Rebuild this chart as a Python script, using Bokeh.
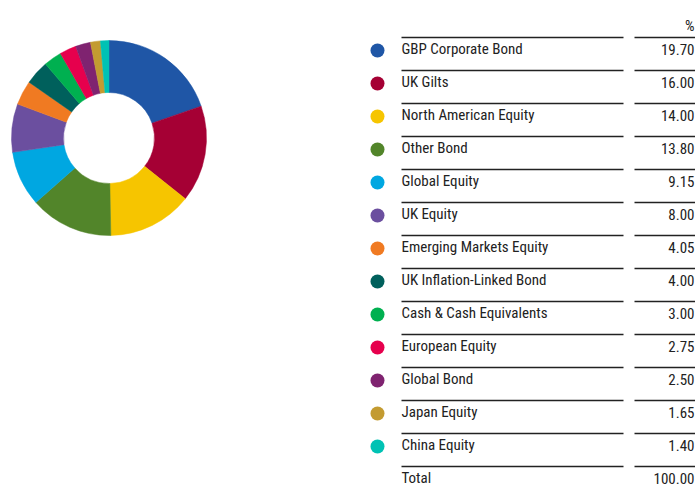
import math
from bokeh.plotting import figure
from bokeh.models import Range1d, ColumnDataSource
from bokeh.core.properties import value
from bokeh.embed import file_html
from bokeh.resources import INLINE

categories = ["GBP Corporate Bond", "UK Gilts", "North American Equity", "Other Bond",
              "Global Equity", "UK Equity", "Emerging Markets Equity", "UK Inflation-Linked Bond",
              "Cash & Cash Equivalents", "European Equity", "Global Bond", "Japan Equity",
              "China Equity"]
values = [19.70, 16.00, 14.00, 13.80, 9.15, 8.00, 4.05, 4.00, 3.00, 2.75, 2.50, 1.65, 1.40]
value_labels = ["19.70", "16.00", "14.00", "13.80", "9.15", "8.00", "4.05", "4.00", "3.00",
                "2.75", "2.50", "1.65", "1.40"]
total_label = "Total"
total_value = "100.00"
header = "%"
colors = ["#1f56a6", "#a50034", "#f6c500", "#52852a", "#00a7e1", "#6b4f9f", "#f07a22",
          "#00605c", "#00b050", "#e6004d", "#7f2370", "#c39b31", "#00c2b4"]

FONT = "Roboto Condensed"
W, H = 695, 486
p = figure(width=W, height=H, output_backend="svg", toolbar_location=None,
           x_range=Range1d(0, W), y_range=Range1d(0, H), min_border=0)
p.axis.visible = False
p.grid.visible = False
p.outline_line_color = None
p.background_fill_color = "white"
p.border_fill_color = "white"

def Y(py):
    return H - py

# donut, clockwise from 12 o'clock
total = sum(values)
starts, ends = [], []
cum = 0.0
for v in values:
    starts.append(math.pi / 2 - 2 * math.pi * (cum + v) / total)
    ends.append(math.pi / 2 - 2 * math.pi * cum / total)
    cum += v
src = ColumnDataSource(dict(start=starts, end=ends, color=colors))
p.annular_wedge(x=108.5, y=Y(137.5), inner_radius=45.5, outer_radius=97.5,
                inner_radius_units="screen", outer_radius_units="screen",
                start_angle="start", end_angle="end", color="color",
                line_color="color", line_width=0.5, source=src)

n = len(categories)
row_y = [Y(48.5 + 33 * i) for i in range(n + 1)]
line_y = [Y(37 + 33 * i) for i in range(n + 1)]

# legend circles
p.scatter(x=[377] * n, y=[Y(50 + 33 * i) for i in range(n)], size=14,
          color=colors, line_color=None)

# separator lines
p.segment(x0=[401] * (n + 1), y0=line_y, x1=[623] * (n + 1), y1=line_y,
          line_color="#222222", line_width=1.7)
p.segment(x0=[634] * (n + 1), y0=line_y, x1=[695] * (n + 1), y1=line_y,
          line_color="#222222", line_width=1.7)

labels = categories + [total_label]
vals = value_labels + [total_value]
common = dict(text_baseline="middle", text_font=value(FONT), text_font_size="15px",
              text_color="#222222")
p.text(x=[401] * (n + 1), y=row_y, text=labels, text_align="left", **common)
p.text(x=[694] * (n + 1), y=row_y, text=vals, text_align="right", **common)
p.text(x=[694], y=[Y(25)], text=[header], text_align="right", **common)

open("out.html", "w").write(file_html(p, INLINE))
